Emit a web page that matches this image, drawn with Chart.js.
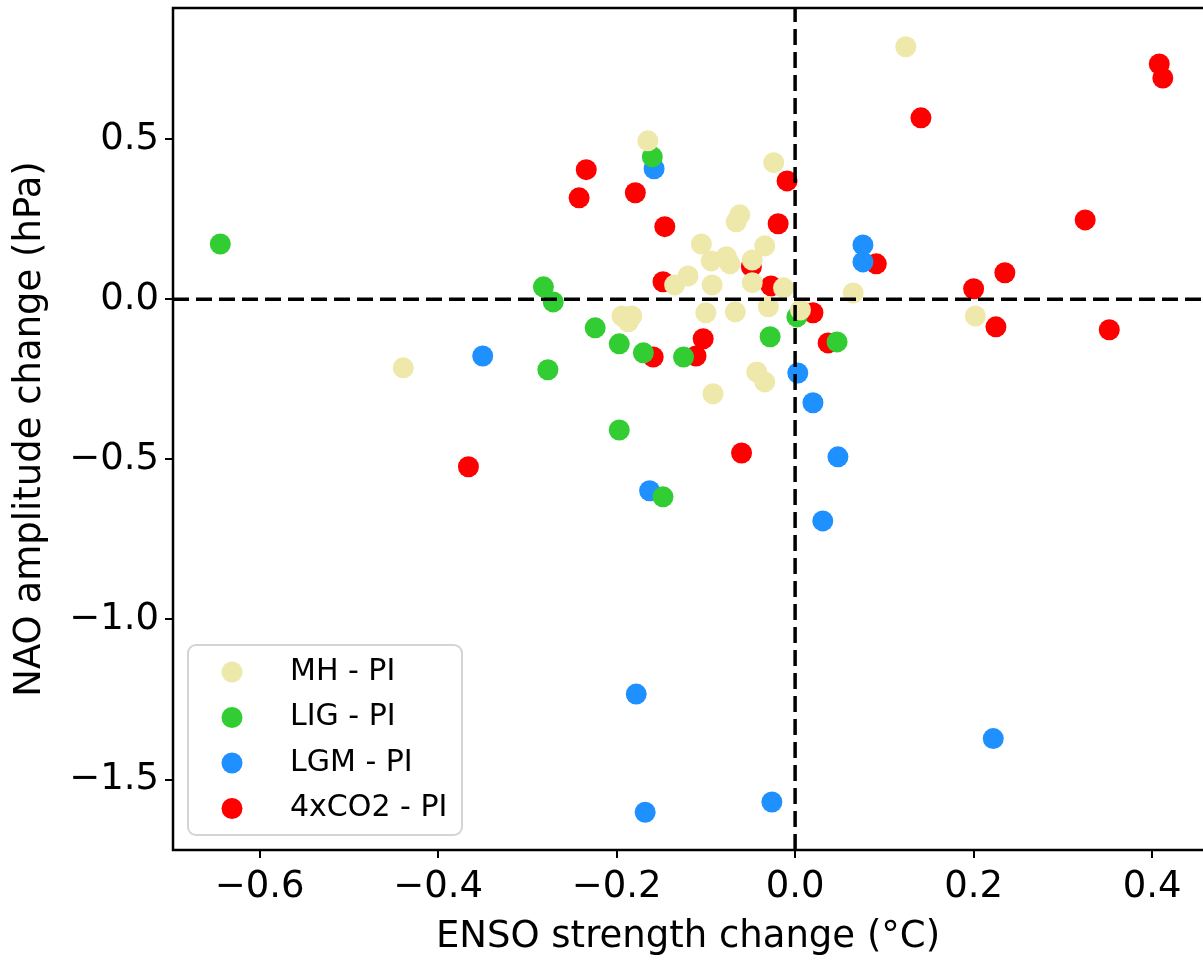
<!DOCTYPE html>
<html>
<head>
<meta charset="utf-8">
<script src="https://cdn.jsdelivr.net/npm/chart.js@4"></script>
<style>
  body { margin: 0; background: #fff; }
  #wrap { width: 1203px; height: 960px; }
</style>
</head>
<body>
<div id="wrap"><canvas id="myChart" width="1203" height="960"></canvas></div>
<script>
// Séries (ENSO °C, NAO hPa)
const seriesNames = ['MH - PI', 'LIG - PI', 'LGM - PI', '4xCO2 - PI'];
const seriesColors = ['#EEE8AA', '#32CD32', '#1E90FF', '#FF0000'];

const mhX = [0.124, -0.165, -0.024, -0.062, -0.066, -0.105, -0.034, -0.094, -0.077, -0.073,
             -0.048, -0.120, -0.135, -0.093, -0.048, -0.013, -0.030, -0.067, -0.100, -0.194,
             -0.183, -0.187, -0.043, -0.034, -0.092, -0.439, 0.202, 0.065, 0.006];
const mhY = [0.789, 0.495, 0.427, 0.264, 0.242, 0.173, 0.167, 0.120, 0.133, 0.111,
             0.123, 0.073, 0.045, 0.045, 0.052, 0.036, -0.023, -0.039, -0.042, -0.052,
             -0.052, -0.070, -0.227, -0.258, -0.295, -0.214, -0.052, 0.020, -0.033];

const ligX = [-0.644, -0.160, -0.282, -0.271, -0.224, -0.197, -0.170, -0.125, -0.277, -0.197,
              -0.148, -0.028, 0.002, 0.047];
const ligY = [0.173, 0.445, 0.039, -0.008, -0.089, -0.139, -0.167, -0.180, -0.220, -0.408,
              -0.617, -0.117, -0.055, -0.133];

const lgmX = [-0.158, 0.076, 0.076, -0.350, 0.003, 0.020, 0.048, 0.031, -0.163, -0.178,
              0.222, -0.026, -0.168];
const lgmY = [0.408, 0.170, 0.117, -0.177, -0.230, -0.323, -0.492, -0.692, -0.598, -1.233,
              -1.372, -1.570, -1.602];

const co2X = [0.408, 0.412, 0.141, 0.325, 0.091, 0.235, 0.200, 0.225, 0.352, -0.234,
              -0.242, -0.179, -0.146, -0.009, -0.019, -0.049, -0.148, -0.027, 0.020, 0.037,
              -0.103, -0.111, -0.159, -0.366, -0.060];
const co2Y = [0.735, 0.691, 0.567, 0.248, 0.111, 0.083, 0.033, -0.086, -0.095, 0.405,
              0.317, 0.333, 0.227, 0.370, 0.236, 0.102, 0.055, 0.042, -0.042, -0.136,
              -0.123, -0.177, -0.180, -0.523, -0.480];

const xTicks = [-0.6, -0.4, -0.2, 0.0, 0.2, 0.4];
const yTicks = [-1.5, -1.0, -0.5, 0.0, 0.5];

const allX = [mhX, ligX, lgmX, co2X];
const allY = [mhY, ligY, lgmY, co2Y];

function toPoints(xs, ys) {
    return xs.map((v, i) => ({ x: v, y: ys[i] }));
}

function fmt(v) {
    return v.toFixed(1).replace('-', '\u2212');
}

// zera o padding automático das escalas para fixar a área do gráfico
function noPad(s) {
    s.paddingTop = 0;
    s.paddingBottom = 0;
    s.paddingLeft = 0;
    s.paddingRight = 0;
}

Chart.defaults.font.family = 'DejaVu Sans';
Chart.defaults.color = '#000';

// Linhas tracejadas em zero, moldura e legenda
const extras = {
    id: 'extras',
    afterDatasetsDraw(chart) {
        const { ctx, chartArea: a, scales: { x, y } } = chart;
        const x0 = x.getPixelForValue(0);
        const y0 = y.getPixelForValue(0);
        ctx.save();
        ctx.strokeStyle = '#000';
        ctx.lineWidth = 3.5;
        ctx.setLineDash([16, 7]);
        ctx.beginPath();
        ctx.moveTo(a.left, y0);
        ctx.lineTo(a.right, y0);
        ctx.stroke();
        ctx.beginPath();
        ctx.moveTo(x0, a.bottom);
        ctx.lineTo(x0, a.top);
        ctx.stroke();

        // moldura
        ctx.setLineDash([]);
        ctx.lineWidth = 2.5;
        ctx.beginPath();
        ctx.moveTo(a.right + 2, a.top);
        ctx.lineTo(a.left, a.top);
        ctx.lineTo(a.left, a.bottom);
        ctx.lineTo(a.right + 2, a.bottom);
        ctx.stroke();

        // legenda
        const bx = 188, by = 645, bw = 274, bh = 190;
        ctx.fillStyle = 'rgba(255,255,255,0.8)';
        ctx.strokeStyle = '#d4d4d4';
        ctx.lineWidth = 2;
        ctx.beginPath();
        ctx.roundRect(bx, by, bw, bh, 8);
        ctx.fill();
        ctx.stroke();
        ctx.font = '30px "DejaVu Sans"';
        ctx.textBaseline = 'middle';
        seriesNames.forEach((name, i) => {
            const ry = by + 27 + i * 45.5;
            ctx.fillStyle = seriesColors[i];
            ctx.beginPath();
            ctx.arc(bx + 44, ry, 10.5, 0, Math.PI * 2);
            ctx.fill();
            ctx.fillStyle = '#000';
            ctx.fillText(name, bx + 102, ry);
        });
        ctx.restore();
    }
};

const ctx = document.getElementById('myChart').getContext('2d');
const myChart = new Chart(ctx, {
    type: 'scatter',
    data: {
        datasets: seriesNames.map((name, i) => ({
            label: name,
            data: toPoints(allX[i], allY[i]),
            backgroundColor: seriesColors[i],
            borderWidth: 0,
            pointRadius: 10.5,
            pointHoverRadius: 10.5
        }))
    },
    options: {
        responsive: false,
        animation: false,
        devicePixelRatio: 1,
        layout: { autoPadding: false, padding: { top: 8, right: 0, left: 0, bottom: 0 } },
        plugins: {
            legend: { display: false },
            tooltip: { enabled: false }
        },
        scales: {
            x: {
                type: 'linear',
                min: -0.697,
                max: 0.457,
                afterBuildTicks: s => { s.ticks = xTicks.map(v => ({ value: v })); },
                afterFit: s => { s.height = 110; noPad(s); },
                grid: { drawOnChartArea: false, drawTicks: true, tickLength: 8, color: '#000', lineWidth: 2 },
                border: { display: false },
                ticks: { font: { size: 37 }, padding: 7, callback: v => fmt(v) },
                title: { display: true, text: 'ENSO strength change (°C)', font: { size: 37 }, padding: { top: 0, bottom: 0 } }
            },
            y: {
                type: 'linear',
                min: -1.72,
                max: 0.91,
                afterBuildTicks: s => { s.ticks = yTicks.map(v => ({ value: v })); },
                afterFit: s => { s.width = 173; noPad(s); },
                grid: { drawOnChartArea: false, drawTicks: true, tickLength: 8, color: '#000', lineWidth: 2 },
                border: { display: false },
                ticks: { font: { size: 37 }, padding: 6, callback: v => fmt(v) },
                title: { display: true, text: 'NAO amplitude change (hPa)', font: { size: 37 }, padding: { top: 8, bottom: 0 } }
            }
        }
    },
    plugins: [extras]
});
</script>
</body>
</html>
